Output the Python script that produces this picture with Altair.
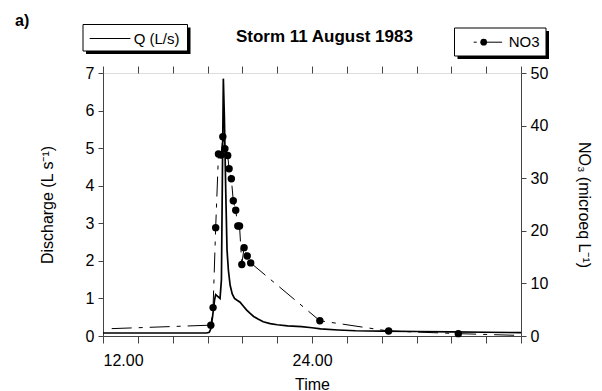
import altair as alt
import pandas as pd

# Discharge Q (L/s)
q_time = [12.0, 17.95, 18.1, 18.2, 18.3, 18.4, 18.47, 18.6, 18.72, 18.8, 18.86, 18.91,
          18.97, 19.05, 19.12, 19.2, 19.3, 19.42, 19.55, 19.7, 19.87, 20.05, 20.25, 20.45,
          20.65, 20.9, 21.2, 21.6, 22.0, 22.6, 23.4, 24.0, 24.5, 25.5, 26.5, 28.0, 30.0,
          32.0, 34.0, 36.0]
q_vals = [0.08, 0.08, 0.1, 0.2, 0.55, 0.95, 1.1, 1.05, 1.0, 1.5, 4.5, 6.85,
          5.8, 3.8, 2.3, 1.75, 1.35, 1.12, 1.0, 0.95, 0.9, 0.8, 0.69, 0.6,
          0.52, 0.45, 0.38, 0.33, 0.3, 0.27, 0.25, 0.22, 0.19, 0.16, 0.14, 0.13, 0.12,
          0.11, 0.1, 0.09]

# NO3 (microeq/L); sampled = 1 where a marker is drawn
n_time = [12.5, 18.19, 18.32, 18.47, 18.63, 18.78, 18.88, 19.0, 19.16, 19.24, 19.37,
          19.48, 19.62, 19.74, 19.84, 19.97, 20.1, 20.28, 20.48, 24.45, 28.4, 32.4, 36.0]
n_vals = [1.4, 2.06, 5.4, 20.6, 34.6, 34.4, 37.9, 35.6, 34.3, 31.8, 29.9,
          25.7, 23.9, 20.9, 20.9, 13.6, 16.8, 15.2, 13.9, 2.9, 0.95, 0.45, 0.1]
n_sampled = [0, 1, 1, 1, 1, 1, 1, 1, 1, 1, 1,
             1, 1, 1, 1, 1, 1, 1, 1, 1, 1, 1, 0]

x_ticks = list(range(12, 37, 2))
q_ticks = list(range(0, 8))
n_ticks = list(range(0, 51, 10))

q_df = pd.DataFrame({"t": q_time, "Q": q_vals})
n_df = pd.DataFrame({"t": n_time, "N": n_vals, "m": n_sampled})

FONT = "Liberation Sans"
xscale = alt.Scale(domain=[12, 36], nice=False, zero=False)

x_bottom = alt.Axis(orient="bottom", values=x_ticks, tickSize=7, labelPadding=9,
                    labelExpr="datum.value == 12 || datum.value == 24 ? format(datum.value, '.2f') : ''",
                    labelFontSize=16, title="Time", titleFontSize=16, titleFontWeight="normal",
                    titlePadding=8, grid=False, domainColor="#444", tickColor="#444",
                    labelColor="black", titleColor="black")
x_top = alt.Axis(orient="top", values=x_ticks, tickSize=7, labels=False, title=None,
                 grid=False, domain=False, tickColor="#444")

q_line = alt.Chart(q_df).mark_line(color="black", strokeWidth=1.7).encode(
    x=alt.X("t:Q", scale=xscale, axis=x_bottom),
    y=alt.Y("Q:Q", scale=alt.Scale(domain=[0, 7], nice=False),
            axis=alt.Axis(orient="left", values=q_ticks, tickSize=5, labelPadding=4,
                          labelFontSize=16, title="Discharge (L s⁻¹)", titleFontSize=16,
                          titleFontWeight="normal", titlePadding=30, grid=False,
                          domainColor="#444", tickColor="#444", labelColor="black",
                          titleColor="black")),
)

n_y = alt.Y("N:Q", scale=alt.Scale(domain=[0, 50], nice=False),
            axis=alt.Axis(orient="right", values=n_ticks, tickSize=5, labelPadding=4,
                          labelFontSize=16, title="NO₃ (microeq L⁻¹)", titleFontSize=16,
                          titleFontWeight="normal", titlePadding=28, titleAngle=90, grid=False,
                          domainColor="#444", tickColor="#444", labelColor="black",
                          titleColor="black"))

n_line = alt.Chart(n_df).mark_line(color="black", strokeWidth=1, strokeDash=[20, 7, 4, 7],
                                   clip=True).encode(
    x=alt.X("t:Q", scale=xscale, axis=x_top), y=n_y)
n_pts = alt.Chart(n_df).transform_filter("datum.m == 1").mark_circle(
    color="black", opacity=1, size=55).encode(
    x=alt.X("t:Q", scale=xscale, axis=x_top), y=n_y)
n_layer = alt.layer(n_line, n_pts)

one = pd.DataFrame({"a": [0]})

def rect(x, x2, y, y2, fill, stroke=None):
    kw = dict(fill=fill)
    if stroke:
        kw.update(stroke=stroke, strokeWidth=1)
    return alt.Chart(one).mark_rect(**kw).encode(
        x=alt.value(x), x2=alt.value(x2), y=alt.value(y), y2=alt.value(y2))

def text(s, x, y, size=15, weight="normal", align="left", baseline="middle"):
    return alt.Chart(one).mark_text(text=s, font=FONT, fontSize=size, fontWeight=weight,
                                    align=align, baseline=baseline, color="black").encode(
        x=alt.value(x), y=alt.value(y))

deco = [
    # left legend box
    rect(-17, 87.5, -45.5, -19, "black"),
    rect(-20, 84.5, -48.5, -22, "white", "black"),
    alt.Chart(one).mark_rule(color="black", strokeWidth=1).encode(
        x=alt.value(-13.3), x2=alt.value(27.4), y=alt.value(-34.5)),
    text("Q (L/s)", 30.7, -34.5),
    # right legend box
    rect(354.5, 446, -42, -14, "black"),
    rect(351.5, 443, -45, -17, "white", "black"),
    alt.Chart(one).mark_rule(color="black", strokeWidth=1, strokeDash=[3, 4, 60, 1]).encode(
        x=alt.value(370.7), x2=alt.value(399.1), y=alt.value(-30.8)),
    alt.Chart(one).mark_circle(color="black", opacity=1, size=45).encode(
        x=alt.value(380.7), y=alt.value(-30.8)),
    text("NO3", 405.7, -30.8),
    # title and panel label
    text("Storm 11 August 1983", 221.4, -31, size=17, weight="bold", align="center",
         baseline="alphabetic"),
    text("a)", -88, -47, size=16, weight="bold", baseline="alphabetic"),
]

chart = alt.layer(q_line, n_layer, *deco).resolve_scale(y="independent").resolve_axis(
    x="independent").properties(
    width=418, height=263,
    autosize=alt.AutoSizeParams(type="none"),
    padding={"left": 95, "top": 65, "right": 73, "bottom": 56},
).configure_view(stroke="#888", strokeWidth=1).configure_axis(
    labelFont=FONT, titleFont=FONT).configure(background="white")

chart.save("out.html", embed_options={"renderer": "svg", "actions": False})
